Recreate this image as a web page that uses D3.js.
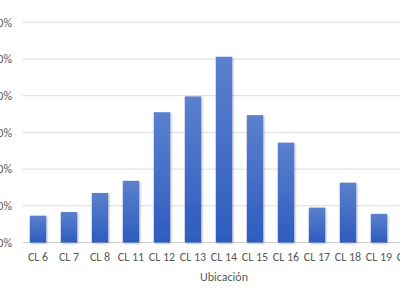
<!DOCTYPE html>
<html><head><meta charset="utf-8">
<script src="https://cdn.jsdelivr.net/npm/d3@7"></script>
<style>html,body{margin:0;padding:0;background:#fff;overflow:hidden}svg{display:block}</style>
</head><body>
<script>
const categories = ["CL 6","CL 7","CL 8","CL 11","CL 12","CL 13","CL 14","CL 15","CL 16","CL 17","CL 18","CL 19","CL 20"];
const values = [0.073,0.083,0.135,0.168,0.355,0.398,0.506,0.347,0.272,0.095,0.163,0.078,0.06];
const yTicks = [0,0.1,0.2,0.3,0.4,0.5,0.6];
const xTitle = "Ubicación";

const W=400,H=300;
const svg=d3.select("body").append("svg").attr("width",W).attr("height",H);
const defs=svg.append("defs");
const g=defs.append("linearGradient").attr("id","bg").attr("x1",0).attr("y1",0).attr("x2",0).attr("y2",1);
g.append("stop").attr("offset","0%").attr("stop-color","#5b80cd");
g.append("stop").attr("offset","100%").attr("stop-color","#2e5cbf");
const f=defs.append("filter").attr("id","sh").attr("x","-30%").attr("y","-10%").attr("width","160%").attr("height","130%");
f.append("feDropShadow").attr("dx",1).attr("dy",1).attr("stdDeviation",1.2).attr("flood-color","#000").attr("flood-opacity",0.28);

const x=d3.scaleBand().domain(categories).range([22.5,425.5]).paddingInner(0.47).paddingOuter(0.235);
const y=d3.scaleLinear().domain([0,0.6]).range([242.5,22.3]);

const font="Carlito, Lato, 'Open Sans', sans-serif";
const fs=12;
const gy=svg.append("g").call(d3.axisLeft(y).tickValues(yTicks).tickFormat(d3.format(".0%")).tickSize(0).tickPadding(0))
  .attr("transform","translate(12,0)");
gy.select(".domain").remove();
gy.selectAll("text").attr("font-family",font).attr("font-size",fs).attr("fill","#595959").attr("x",0);

svg.append("g").selectAll("line").data(yTicks).join("line")
  .attr("x1",22.5).attr("x2",W).attr("y1",d=>y(d)).attr("y2",d=>y(d))
  .attr("stroke",d=>d===0?"#d0d0d0":"#dcdcdc").attr("stroke-width",1);

svg.append("g").selectAll("rect").data(values).join("rect")
  .attr("x",(d,i)=>x(categories[i])).attr("width",x.bandwidth())
  .attr("y",d=>y(d)).attr("height",d=>y(0)-y(d))
  .attr("fill","url(#bg)").attr("filter","url(#sh)");

const gx=svg.append("g").attr("transform","translate(0,242.5)").call(d3.axisBottom(x).tickSize(0).tickPadding(10));
gx.select(".domain").remove();
gx.selectAll("text").attr("font-family",font).attr("font-size",fs).attr("fill","#595959");

svg.append("text").attr("x",224).attr("y",281).attr("text-anchor","middle")
  .attr("font-family",font).attr("font-size",fs).attr("fill","#595959").text(xTitle);
</script>
</body></html>
